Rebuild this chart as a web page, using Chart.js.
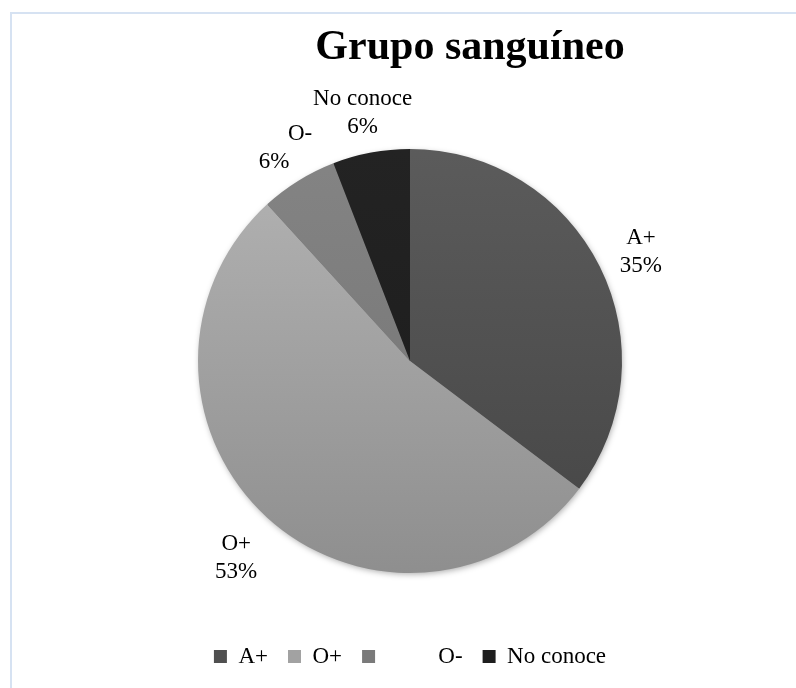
<!DOCTYPE html>
<html>
<head>
<meta charset="utf-8">
<script src="https://cdn.jsdelivr.net/npm/chart.js@4"></script>
<style>
  html, body { margin: 0; padding: 0; background: #fff; overflow: hidden; }
  #frame { position: absolute; left: 10px; top: 12px; width: 900px; height: 800px; border: 2px solid #d6e2f2; }
  #wrap { position: absolute; left: 0; top: 0; width: 796px; height: 688px; }
</style>
</head>
<body>
<div id="frame"></div>
<div id="wrap"><canvas id="chart"></canvas></div>
<script>
const chartTitle = 'Grupo sanguíneo';
const categories = ['A+', 'O+', '         O-', 'No conoce'];
const counts = [12, 18, 2, 2];
const percentLabels = ['35%', '53%', '6%', '6%'];

const topColors = ['#5e5e5e', '#b8b8b8', '#868686', '#242424'];
const bottomColors = ['#424242', '#8a8a8a', '#707070', '#1a1a1a'];
const legendColors = ['#505050', '#a2a2a2', '#7a7a7a', '#1e1e1e'];

const serif = '"Liberation Serif", "Times New Roman", serif';

// vertical gradient per slice, like the office-style shading
function sliceFill(ctx) {
  const chart = ctx.chart;
  const area = chart.chartArea;
  if (!area) return topColors[ctx.dataIndex];
  const g = chart.ctx.createLinearGradient(0, area.top, 0, area.bottom);
  g.addColorStop(0, topColors[ctx.dataIndex]);
  g.addColorStop(1, bottomColors[ctx.dataIndex]);
  return g;
}

const titlePlugin = {
  id: 'fixedTitle',
  afterDraw(chart) {
    const c = chart.ctx;
    c.save();
    c.font = 'bold 42px ' + serif;
    c.fillStyle = '#000';
    c.textAlign = 'center';
    c.textBaseline = 'alphabetic';
    c.fillText(chartTitle, 470, 59);
    c.restore();
  }
};

const shadowPlugin = {
  id: 'pieShadow',
  beforeDatasetsDraw(chart) {
    const arc = chart.getDatasetMeta(0).data[0];
    if (!arc) return;
    const c = chart.ctx;
    c.save();
    c.shadowColor = 'rgba(0,0,0,0.35)';
    c.shadowBlur = 6;
    c.shadowOffsetX = 1;
    c.shadowOffsetY = 2;
    c.fillStyle = '#777';
    c.beginPath();
    c.arc(arc.x, arc.y, arc.outerRadius - 1, 0, Math.PI * 2);
    c.fill();
    c.restore();
  }
};

const labelPlugin = {
  id: 'outsideLabels',
  afterDatasetsDraw(chart) {
    const c = chart.ctx;
    const meta = chart.getDatasetMeta(0);
    c.save();
    c.font = '23px ' + serif;
    c.fillStyle = '#000';
    c.textAlign = 'center';
    c.textBaseline = 'middle';
    meta.data.forEach((arc, i) => {
      const mid = (arc.startAngle + arc.endAngle) / 2;
      const r = arc.outerRadius + 46;
      const x = arc.x + Math.cos(mid) * r;
      const y = arc.y + Math.sin(mid) * r;
      c.fillText(categories[i], x, y - 8);
      c.fillText(percentLabels[i], x, y + 20);
    });
    c.restore();
  }
};

new Chart(document.getElementById('chart'), {
  type: 'pie',
  data: {
    labels: categories,
    datasets: [{
      data: counts,
      backgroundColor: sliceFill,
      borderWidth: 0,
      radius: 212
    }]
  },
  options: {
    responsive: true,
    maintainAspectRatio: false,
    animation: false,
    layout: { padding: { top: 97, left: 24, right: 0, bottom: 10 } },
    plugins: {
      title: { display: false },
      tooltip: { enabled: false },
      legend: {
        position: 'bottom',
        labels: {
          font: { family: serif, size: 23 },
          color: '#000',
          boxWidth: 13,
          boxHeight: 13,
          padding: 20,
          generateLabels: (chart) => {
            const items = Chart.overrides.pie.plugins.legend.labels.generateLabels(chart);
            items.forEach((it, i) => {
              it.fillStyle = legendColors[i];
              it.strokeStyle = legendColors[i];
              it.lineWidth = 0;
            });
            return items;
          }
        }
      }
    }
  },
  plugins: [shadowPlugin, labelPlugin, titlePlugin]
});
</script>
</body>
</html>
